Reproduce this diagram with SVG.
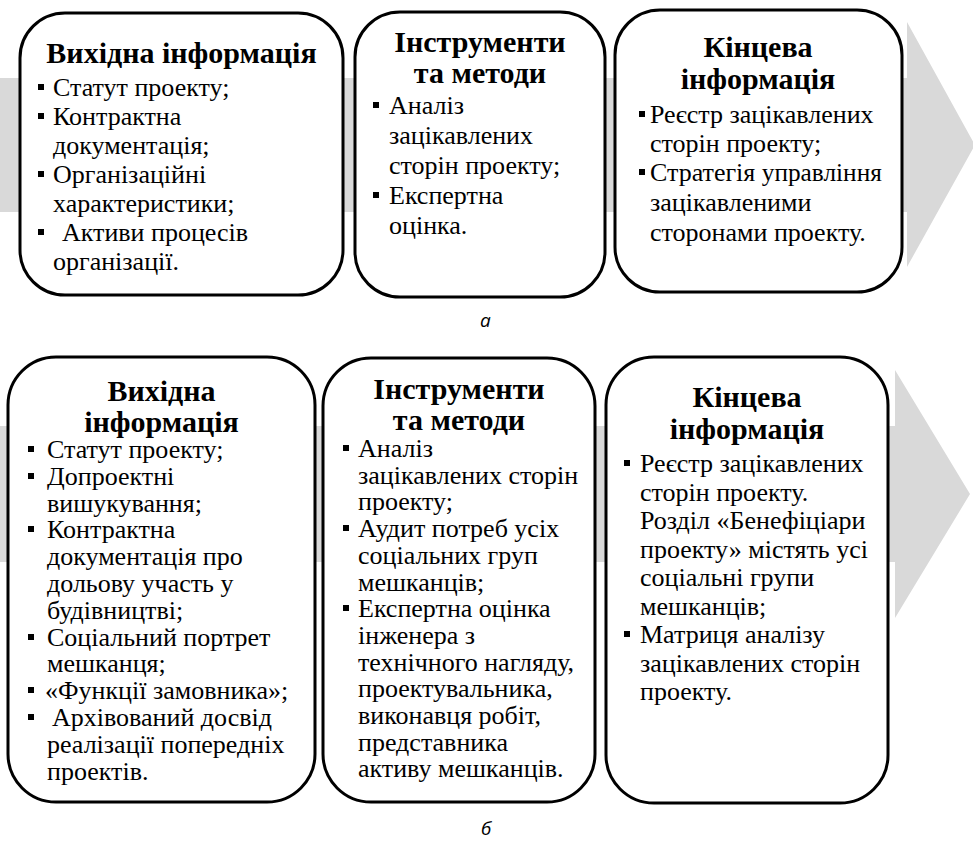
<svg xmlns="http://www.w3.org/2000/svg" width="973" height="846" viewBox="0 0 973 846">
<defs>
<style>
.box{fill:#fff;stroke:#000;stroke-width:3}
.band{fill:#d9d9d9}
</style>
<rect id="sq" width="6" height="6" fill="#000"/>
</defs>
<g id="connectors">
<path class="band" d="M0,78 H907 V22 L975,145 L907,267 V212 H0 Z"/>
<path class="band" d="M0,426 H895 V370 L970,494 L895,618 V562 H0 Z"/>
</g>
<g id="a-input">
<rect class="box" x="20" y="13" width="323" height="282" rx="45"/>
<text x="181.5" y="63" font-family="Liberation Serif" font-size="30" font-weight="bold" text-anchor="middle">Вихідна інформація</text>
<use href="#sq" x="38" y="84"/><use href="#sq" x="38" y="113"/><use href="#sq" x="38" y="171"/><use href="#sq" x="38" y="229"/>
<g font-family="Liberation Serif" font-size="26">
<text x="53" y="96">Статут проекту;</text>
<text x="53" y="125">Контрактна</text>
<text x="53" y="154">документація;</text>
<text x="53" y="183">Організаційні</text>
<text x="53" y="212">характеристики;</text>
<text x="62" y="241">Активи процесів</text>
<text x="53" y="270">організації.</text>
</g>
</g>
<g id="a-tools">
<rect class="box" x="355" y="12" width="250" height="285" rx="45"/>
<g font-family="Liberation Serif" font-size="30" font-weight="bold" text-anchor="middle">
<text x="480" y="52">Інструменти</text>
<text x="480" y="83">та методи</text>
</g>
<use href="#sq" x="373" y="102"/><use href="#sq" x="373" y="192"/>
<g font-family="Liberation Serif" font-size="26">
<text x="389" y="114">Аналіз</text>
<text x="389" y="144">зацікавлених</text>
<text x="389" y="174">сторін проекту;</text>
<text x="389" y="204">Експертна</text>
<text x="389" y="234">оцінка.</text>
</g>
</g>
<g id="a-output">
<rect class="box" x="615" y="10" width="287" height="282" rx="45"/>
<g font-family="Liberation Serif" font-size="30" font-weight="bold" text-anchor="middle">
<text x="758" y="57">Кінцева</text>
<text x="758" y="89">інформація</text>
</g>
<use href="#sq" x="639" y="111"/><use href="#sq" x="639" y="169"/>
<g font-family="Liberation Serif" font-size="26">
<text x="650" y="123">Реєстр зацікавлених</text>
<text x="650" y="152">сторін проекту;</text>
<text x="650" y="181">Стратегія <tspan textLength="120" lengthAdjust="spacingAndGlyphs">управління</tspan></text>
<text x="650" y="211">зацікавленими</text>
<text x="650" y="241">сторонами проекту.</text>
</g>
</g>
<g id="b-input">
<rect class="box" x="8" y="357" width="307" height="445" rx="48"/>
<g font-family="Liberation Serif" font-size="30" font-weight="bold" text-anchor="middle">
<text x="161.5" y="401">Вихідна</text>
<text x="161.5" y="432">інформація</text>
</g>
<use href="#sq" x="28" y="446"/><use href="#sq" x="28" y="473"/><use href="#sq" x="28" y="526"/><use href="#sq" x="28" y="634"/><use href="#sq" x="28" y="687"/><use href="#sq" x="28" y="714"/>
<g font-family="Liberation Serif" font-size="26">
<text x="47" y="458">Статут проекту;</text>
<text x="47" y="484.8">Допроектні</text>
<text x="47" y="511.6">вишукування;</text>
<text x="47" y="538.4">Контрактна</text>
<text x="47" y="565.2">документація про</text>
<text x="47" y="592">дольову участь у</text>
<text x="47" y="618.8">будівництві;</text>
<text x="47" y="645.6">Соціальний портрет</text>
<text x="47" y="672.4">мешканця;</text>
<text x="45" y="699.2">«Функції замовника»;</text>
<text x="52" y="726">Архівований досвід</text>
<text x="47" y="752.8">реалізації попередніх</text>
<text x="47" y="779.6">проектів.</text>
</g>
</g>
<g id="b-tools">
<rect class="box" x="323" y="358" width="272" height="444" rx="48"/>
<g font-family="Liberation Serif" font-size="30" font-weight="bold" text-anchor="middle">
<text x="459" y="399">Інструменти</text>
<text x="459" y="430">та методи</text>
</g>
<use href="#sq" x="343" y="445"/><use href="#sq" x="343" y="525"/><use href="#sq" x="343" y="605"/>
<g font-family="Liberation Serif" font-size="26">
<text x="358" y="457">Аналіз</text>
<text x="358" y="483.7">зацікавлених сторін</text>
<text x="358" y="510.4">проекту;</text>
<text x="358" y="537.1">Аудит потреб усіх</text>
<text x="358" y="563.8">соціальних груп</text>
<text x="358" y="590.5">мешканців;</text>
<text x="358" y="617.2">Експертна оцінка</text>
<text x="358" y="643.9">інженера з</text>
<text x="358" y="670.6">технічного нагляду,</text>
<text x="358" y="697.3">проектувальника,</text>
<text x="358" y="724">виконавця робіт,</text>
<text x="358" y="750.7">представника</text>
<text x="358" y="777.4">активу мешканців.</text>
</g>
</g>
<g id="b-output">
<rect class="box" x="606" y="357" width="282" height="446" rx="48"/>
<g font-family="Liberation Serif" font-size="30" font-weight="bold" text-anchor="middle">
<text x="747" y="407">Кінцева</text>
<text x="747" y="439">інформація</text>
</g>
<use href="#sq" x="624" y="460"/><use href="#sq" x="624" y="631"/>
<g font-family="Liberation Serif" font-size="26">
<text x="640" y="472">Реєстр зацікавлених</text>
<text x="640" y="500.5">сторін проекту.</text>
<text x="640" y="529">Розділ «Бенефіціари</text>
<text x="640" y="557.5">проекту» містять усі</text>
<text x="640" y="586">соціальні групи</text>
<text x="640" y="614.5">мешканців;</text>
<text x="640" y="643">Матриця аналізу</text>
<text x="640" y="671.5">зацікавлених сторін</text>
<text x="640" y="700">проекту.</text>
</g>
</g>
<g font-family="Open Sans" font-size="19" font-style="italic">
<text id="label-a" x="480" y="327">а</text>
<text id="label-b" x="481" y="835">б</text>
</g>
</svg>
